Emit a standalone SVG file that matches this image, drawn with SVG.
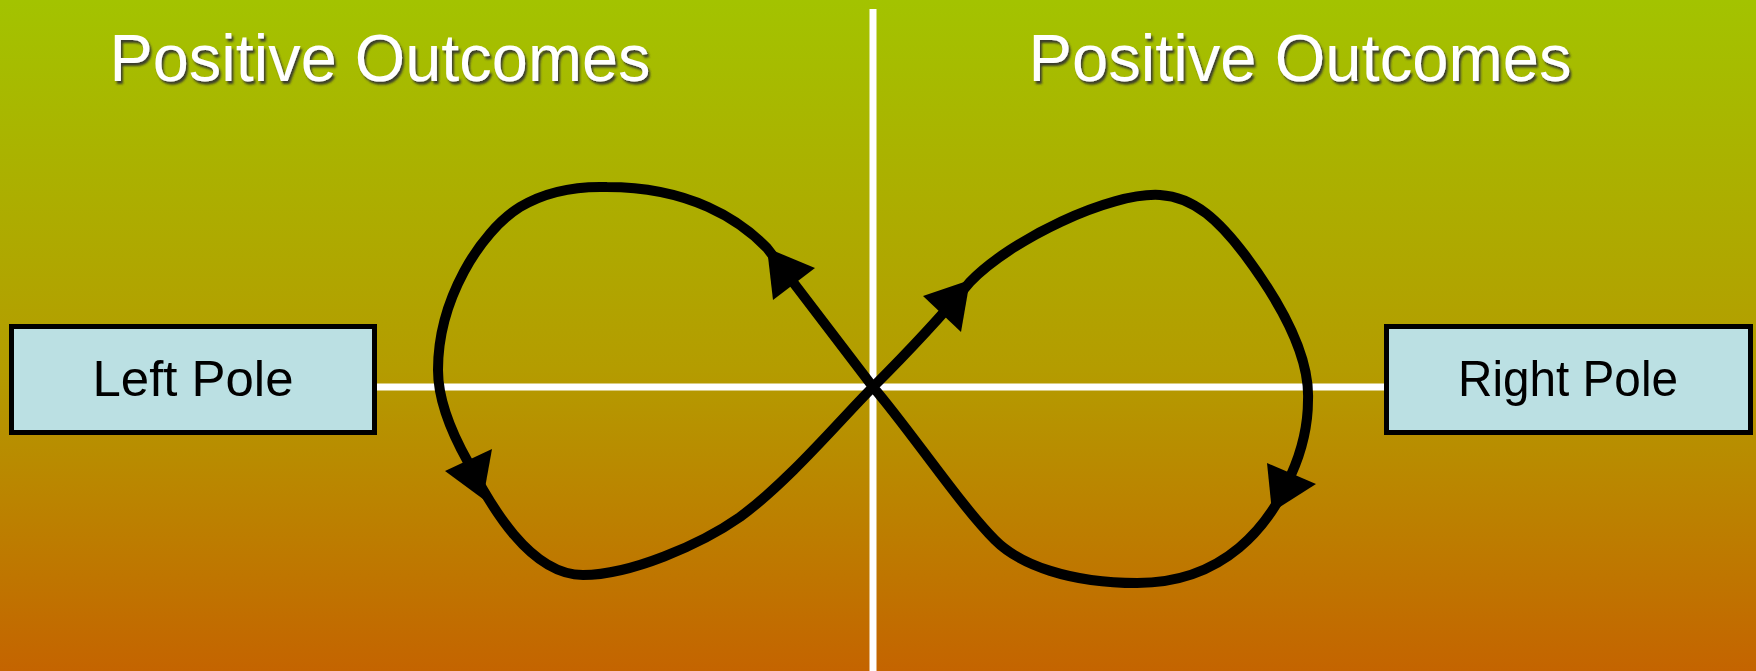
<svg xmlns="http://www.w3.org/2000/svg" width="1756" height="671" viewBox="0 0 1756 671">
<defs>
<linearGradient id="bg" x1="0" y1="0" x2="0" y2="1">
<stop offset="0" stop-color="#A3C300"/>
<stop offset="0.55" stop-color="#B49C00"/>
<stop offset="1" stop-color="#C46400"/>
</linearGradient>
<filter id="sh" x="-5%" y="-20%" width="110%" height="150%">
<feDropShadow dx="2" dy="3" stdDeviation="1" flood-color="#333" flood-opacity="0.9"/>
</filter>
</defs>
<style>
.title{font-family:"Comic Sans MS","Liberation Sans",sans-serif;font-size:66px;fill:#fff;text-anchor:middle}
.pole rect{fill:#BBE0E3;stroke:#000;stroke-width:5}
.pole text{font-family:"Comic Sans MS","Liberation Sans",sans-serif;font-size:50px;fill:#000;text-anchor:middle}
.axis{stroke:#fff;stroke-width:7;fill:none}
.loop{stroke:#000;stroke-width:10;fill:none;stroke-linejoin:round}
.head{fill:#000}
</style>
<rect x="0" y="0" width="1756" height="671" fill="url(#bg)"/>
<g id="axes">
<line class="axis" x1="873" y1="9" x2="873" y2="671"/>
<line class="axis" x1="377" y1="387" x2="1384" y2="387"/>
</g>
<g id="titles" filter="url(#sh)">
<text class="title" x="380" y="81" textLength="541" lengthAdjust="spacingAndGlyphs">Positive Outcomes</text>
<text class="title" x="1300" y="81" textLength="543" lengthAdjust="spacingAndGlyphs">Positive Outcomes</text>
</g>
<g id="left-pole" class="pole">
<rect x="11.5" y="326.5" width="363" height="106"/>
<text x="193" y="396" textLength="201" lengthAdjust="spacingAndGlyphs">Left Pole</text>
</g>
<g id="right-pole" class="pole">
<rect x="1386.5" y="326.5" width="364" height="106"/>
<text x="1568" y="396" textLength="220" lengthAdjust="spacingAndGlyphs">Right Pole</text>
</g>
<g id="connectors">
<path class="loop" d="M 873,387 L 767,248 C 740,220 690,187 607,187 C 575,186 545,192 520,207 C 480,232 438,300 438,370 C 438,400 450,430 468,462 C 490,505 530,575 583,575 C 630,575 700,545 740,517 C 790,480 840,420 873,387 C 905,355 940,318 970,282 C 1010,240 1110,192 1160,195 C 1195,197 1220,222 1245,255 C 1280,302 1310,355 1308,400 C 1308,430 1300,455 1291,475 C 1270,525 1225,583 1137,583 C 1070,583 1020,565 995,540 C 960,505 910,430 873,387 Z"/>
<polygon class="head" points="767,248 815,268 773,300"/>
<polygon class="head" points="970,280 923,296 961,332"/>
<polygon class="head" points="483,499 445,471 492,449"/>
<polygon class="head" points="1272,512 1267,463 1316,484"/>
</g>
</svg>
